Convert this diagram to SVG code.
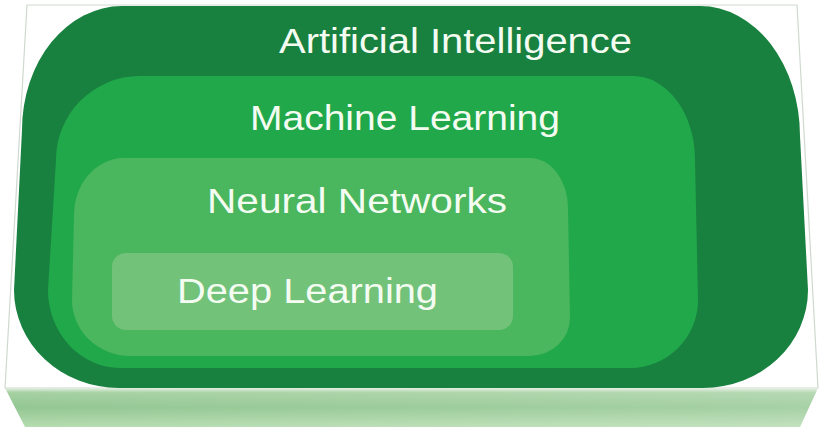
<svg xmlns="http://www.w3.org/2000/svg" width="824" height="432" viewBox="0 0 824 432">
  <defs>
    <linearGradient id="front" x1="0" y1="0" x2="0" y2="1">
      <stop offset="0" stop-color="#e4eee2"/>
      <stop offset="0.12" stop-color="#a6d1a2"/>
      <stop offset="0.5" stop-color="#93c792"/>
      <stop offset="1" stop-color="#b6dcb0"/>
    </linearGradient>
    <linearGradient id="frontH" x1="0" y1="0" x2="1" y2="0">
      <stop offset="0" stop-color="#ffffff" stop-opacity="0"/>
      <stop offset="1" stop-color="#ffffff" stop-opacity="0.18"/>
    </linearGradient>
  </defs>
  <style>
    .lbl { font-family: "Liberation Sans", Arial, sans-serif; font-size: 35px; fill: #f4fcf2; }
  </style>
  <rect width="824" height="432" fill="#ffffff"/>
  <g id="slab">
    <polygon points="27,5 797,5 818,388 5,388" fill="#ffffff" stroke="#cfd9cf" stroke-width="1.2"/>
    <polygon points="5,388 818,388 800,427 25,427" fill="url(#front)"/>
    <polygon points="5,388 818,388 800,427 25,427" fill="url(#frontH)"/>
  </g>
  <g id="artificial-intelligence">
    <path d="M 122,6 H 700 A 100 130 0 0 1 800 136 L 808 290 A 105 98 0 0 1 703 388 H 119 A 105 98 0 0 1 14 290 L 22 130 A 100 124 0 0 1 122 6 Z" fill="#18813f"/>
    <text class="lbl" x="279" y="53" textLength="353" lengthAdjust="spacingAndGlyphs">Artificial Intelligence</text>
  </g>
  <g id="machine-learning">
    <path d="M 140,76 H 633 A 62 84 0 0 1 695 160 L 698 300 A 68 68 0 0 1 630 368 H 120 A 72 78 0 0 1 48 290 L 56 160 A 84 84 0 0 1 140 76 Z" fill="#21a84a"/>
    <text class="lbl" x="250" y="130" textLength="310" lengthAdjust="spacingAndGlyphs">Machine Learning</text>
  </g>
  <g id="neural-networks">
    <path d="M 123,158 H 530 A 38 50 0 0 1 568 208 L 570 318 A 40 38 0 0 1 530 356 H 130 A 58 56 0 0 1 72 300 L 74 215 A 50 57 0 0 1 123 158 Z" fill="#4ab65d"/>
    <text class="lbl" x="207" y="213" textLength="300" lengthAdjust="spacingAndGlyphs">Neural Networks</text>
  </g>
  <g id="deep-learning">
    <rect x="112" y="253" width="401" height="77" rx="14" fill="#72c27a"/>
    <text class="lbl" x="177" y="303" textLength="261" lengthAdjust="spacingAndGlyphs">Deep Learning</text>
  </g>
  <g id="connectors"/>
</svg>
